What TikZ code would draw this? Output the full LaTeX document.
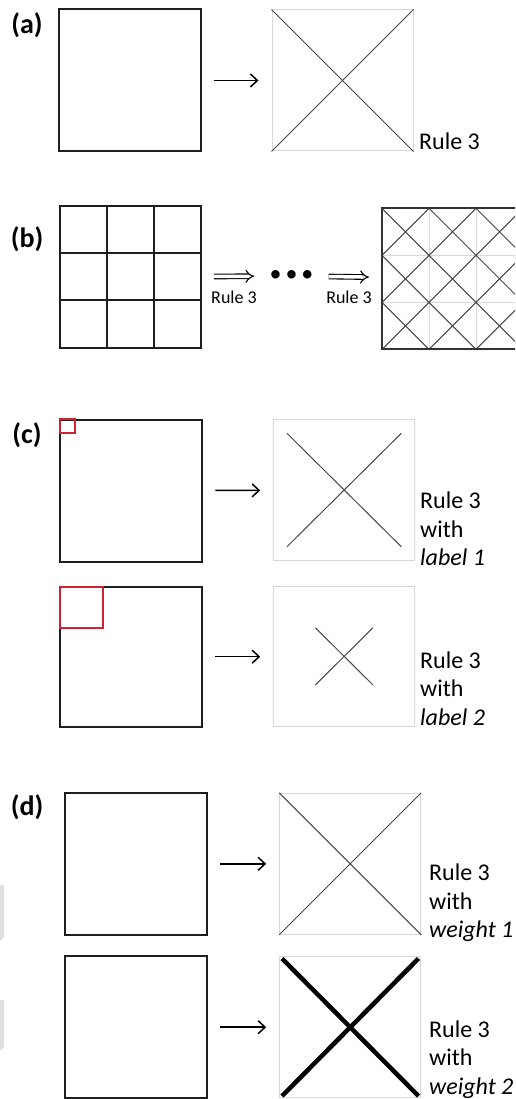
\documentclass[tikz,border=0pt]{standalone}
\usepackage{fontspec}
\setmainfont{Carlito}
\usetikzlibrary{arrows.meta}
\definecolor{ruleRed}{RGB}{205,35,50}
\begin{document}
\begin{tikzpicture}[x=1pt,y=-1pt,
  sq/.style={draw=black!88, line width=2pt, minimum size=142pt, inner sep=0pt},
  rsq/.style={draw=black!15, line width=1pt, minimum size=141pt, inner sep=0pt},
  diag/.style={black!72, line width=1pt},
  arr/.style={-{Straight Barb[length=7pt,width=13pt]}, line width=1.5pt, shorten <=12pt, shorten >=13pt},
  darr/.style={double, double distance=3.5pt, line width=1.1pt, -{Implies}},
  tag/.style={font=\fontsize{28}{32}\selectfont\bfseries, inner sep=0pt},
  rtext/.style={font=\fontsize{24}{28.5}\selectfont, align=left, anchor=base west, inner sep=0pt},
  rsmall/.style={font=\fontsize{18}{20}\selectfont, inner sep=0pt},
]
\useasboundingbox (0,0) rectangle (515,1099);
\clip (0,0) rectangle (515,1099);

% (a)
\node[tag] (ta) at (27,25) {(a)};
\node[sq] (a1) at (129.5,80.5) {};
\node[rsq] (a2) at (342.5,80.5) {};
\draw[diag] (a2.north west) -- (a2.south east);
\draw[diag] (a2.north east) -- (a2.south west);
\draw[arr] (a1) -- (a2);
\node[rtext] (ra) at (419,150) {Rule 3};

% (b)
\node[tag] (tb) at (27,239) {(b)};
\node[sq, minimum size=141pt] (b1) at (130.5,277) {};
\foreach \k in {107.3,154} {
  \draw[black!88, line width=2pt] (\k,206.7) -- (\k,347.3);
  \draw[black!88, line width=2pt] (60,\k+146) -- (201,\k+146);
}
\node[inner sep=0pt, font=\fontsize{24}{26}\selectfont] (bdots) at (291.5,276) {\textbullet\,\textbullet\,\textbullet};
\foreach \k in {429.3,476.3} \draw[black!15, line width=1pt] (\k,208.3) -- (\k,348.3);
\foreach \k in {255.3,302.3} \draw[black!15, line width=1pt] (382,\k) -- (523,\k);
\foreach \i in {0,1,2} \foreach \j in {0,1,2} {
  \draw[diag] (382+47*\i,208.3+47*\j) -- ++(47,47);
  \draw[diag] (429+47*\i,208.3+47*\j) -- ++(-47,47);
}
\node[sq, minimum size=141pt, draw=black!80] (b2) at (452.5,278.3) {};
\draw[darr, shorten <=12pt, shorten >=15pt] (b1) -- (bdots);
\draw[darr, shorten <=15pt, shorten >=12pt] (bdots) -- (b2);
\node[rsmall] (rb1) at (234,297) {Rule 3};
\node[rsmall] (rb2) at (349,297) {Rule 3};

% (c)
\node[tag] (tc) at (27,435) {(c)};
\node[sq] (c1) at (131.3,490.5) {};
\draw[ruleRed, line width=2pt] (60,419.3) rectangle (75,433.3);
\node[rsq] (c2) at (344.2,490.3) {};
\draw[diag] (287,433.3) -- (401.3,546.7);
\draw[diag] (401.3,433.3) -- (287,546.7);
\draw[arr] (c1) -- (c2);
\node[rtext] (rc1) at (420,565.5) {Rule 3\\with\\\textit{label 1}};

\node[sq, minimum height=140pt] (c3) at (131.3,656.7) {};
\draw[ruleRed, line width=2pt] (60,586.7) rectangle (103.3,627.7);
\node[rsq, minimum height=140pt] (c4) at (344.2,656.7) {};
\draw[diag] (315.3,627.7) -- (373,685);
\draw[diag] (373,627.7) -- (315.3,685);
\draw[arr] (c3) -- (c4);
\node[rtext] (rc2) at (420,725) {Rule 3\\with\\\textit{label 2}};

% (d)
\node[tag] (td) at (27,807) {(d)};
\node[sq] (d1) at (136.3,863.8) {};
\node[rsq] (d2) at (350.2,863.8) {};
\draw[diag] (d2.north west) -- (d2.south east);
\draw[diag] (d2.north east) -- (d2.south west);
\draw[arr] (d1) -- (d2);
\node[rtext] (rd1) at (429,937.5) {Rule 3\\with\\\textit{weight 1}};

\node[sq] (d3) at (136.3,1027.2) {};
\node[rsq] (d4) at (350.2,1027.2) {};
\draw[black, line width=4.5pt] (282,958.5) -- (418.5,1096);
\draw[black, line width=4.5pt] (418.5,958.5) -- (282,1096);
\draw[arr] (d3) -- (d4);
\node[rtext] (rd2) at (429,1094) {Rule 3\\with\\\textit{weight 2}};

% grey marks at the left edge
\fill[black!12] (0,885) -- (4,885) -- (4,937) -- (0,941) -- cycle;
\fill[black!12] (0,1000) -- (4,1000) -- (4,1047) -- (0,1051) -- cycle;
\end{tikzpicture}
\end{document}
